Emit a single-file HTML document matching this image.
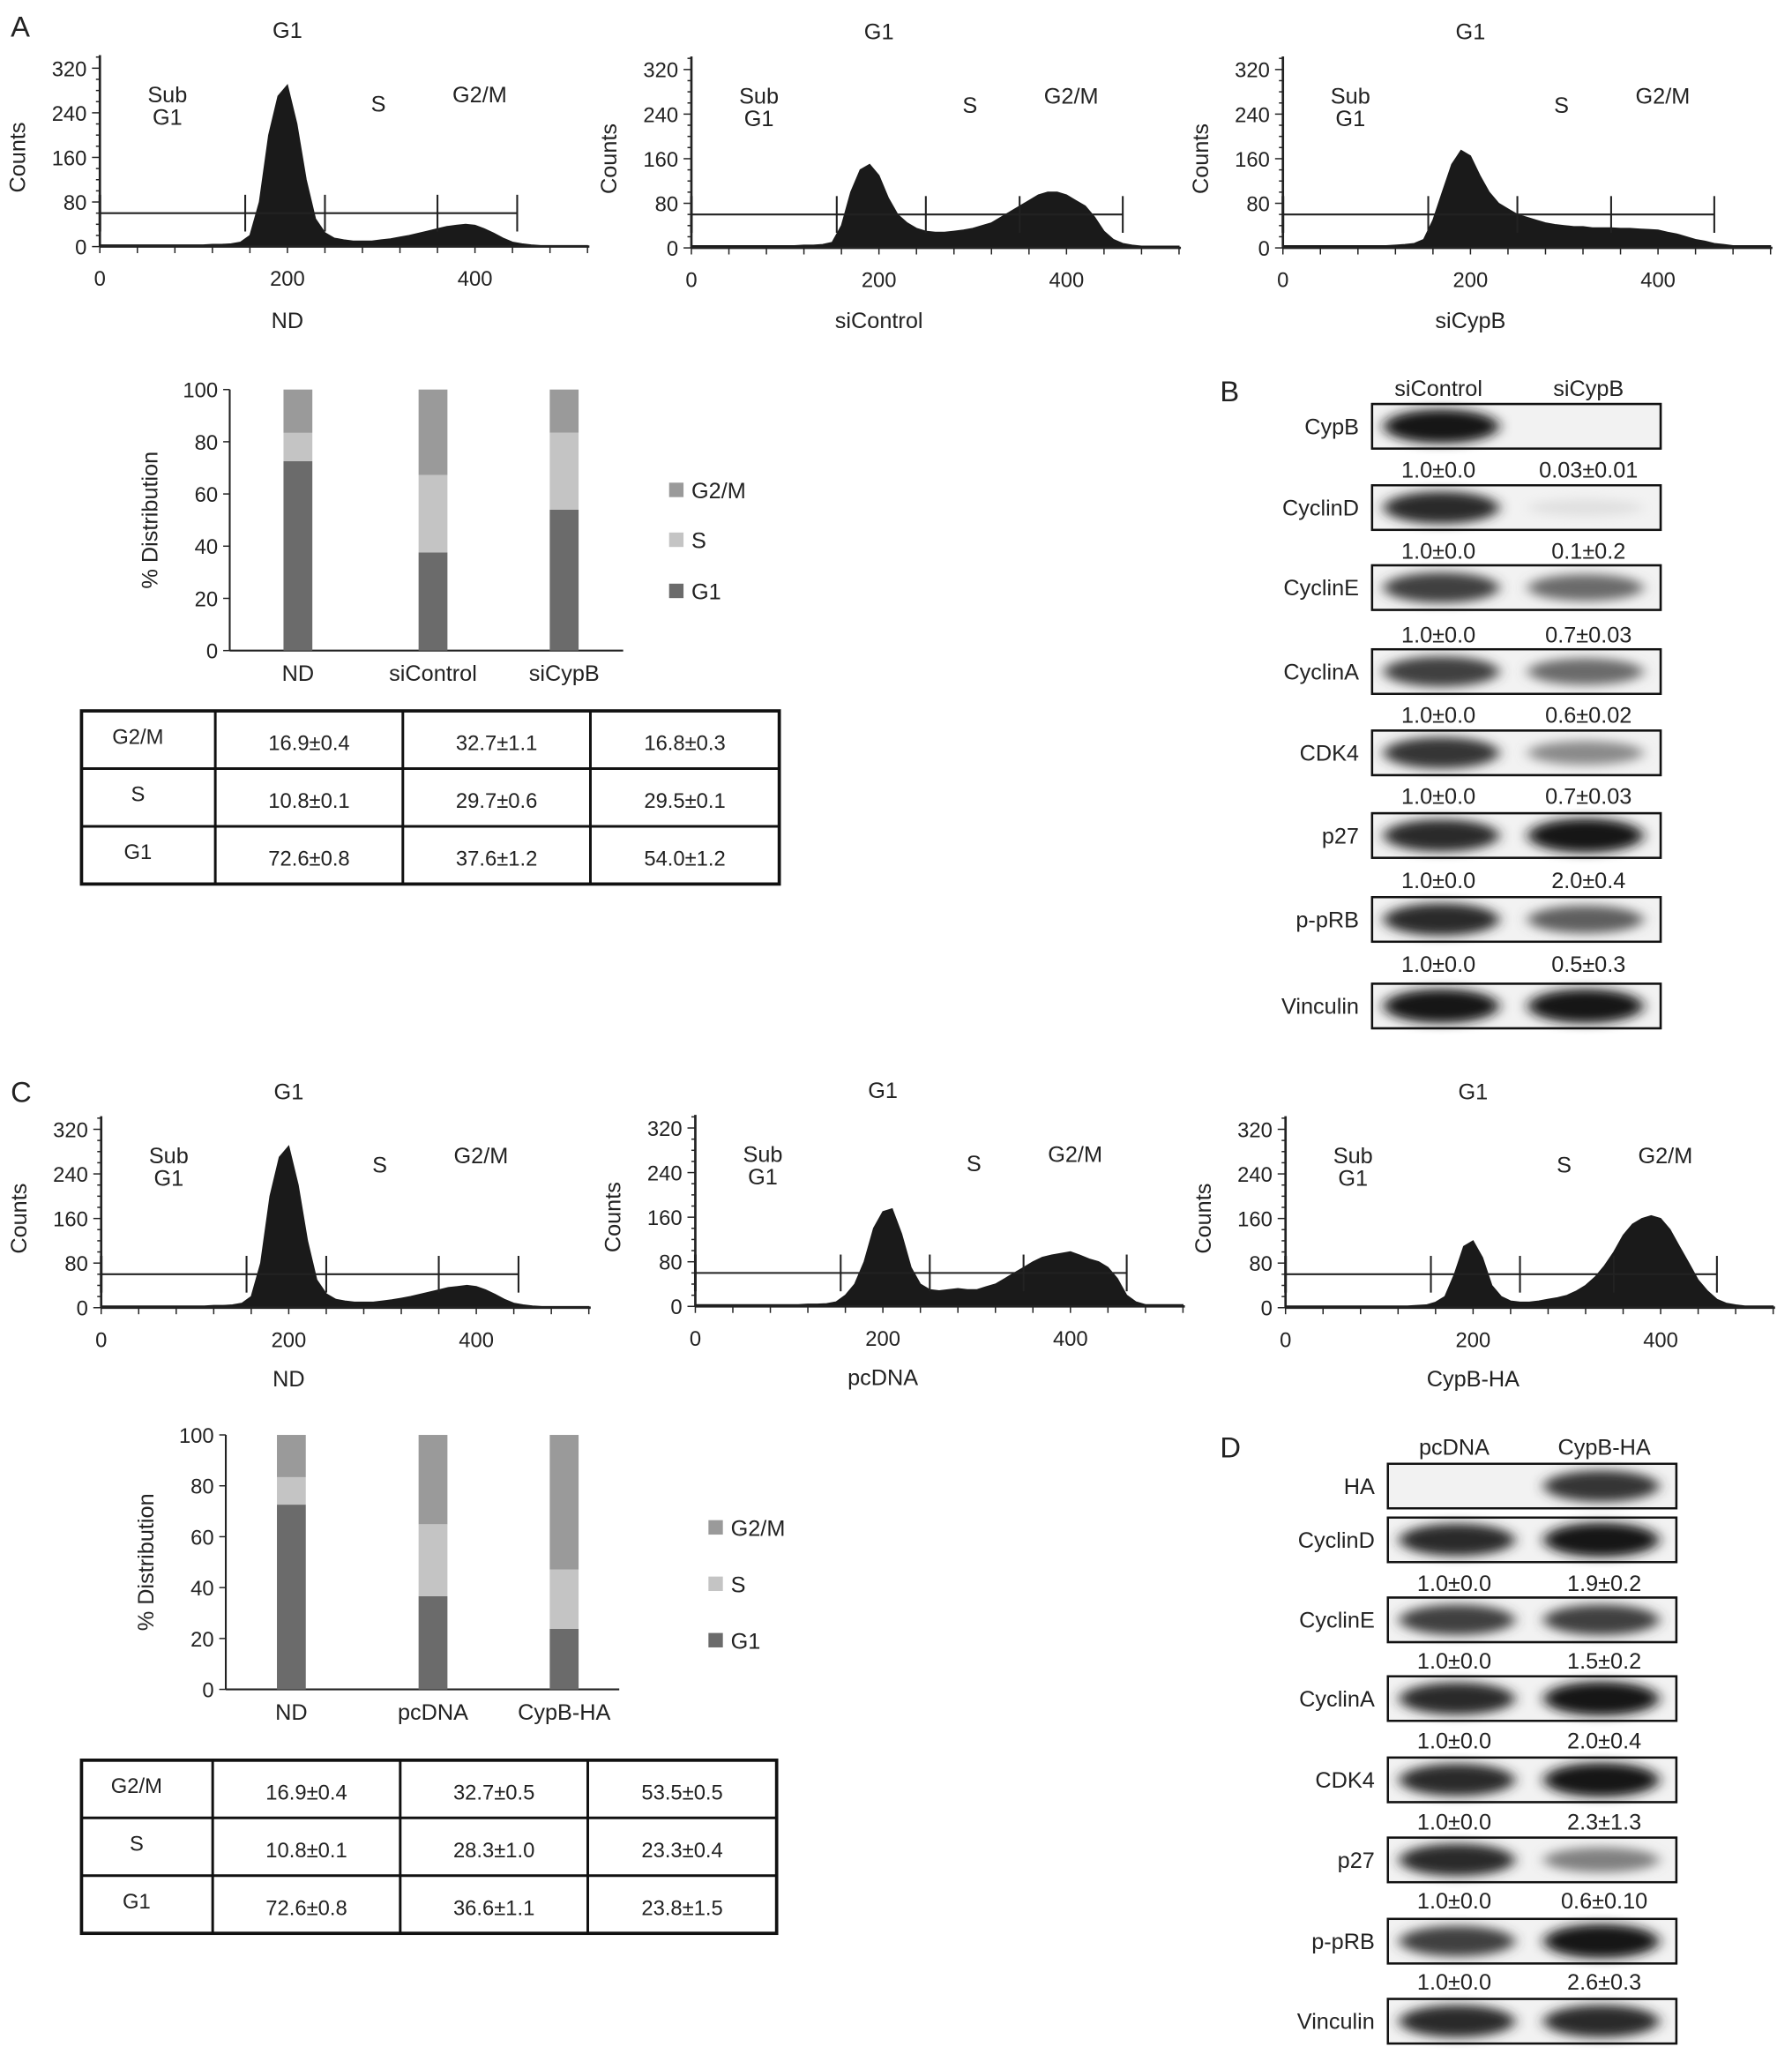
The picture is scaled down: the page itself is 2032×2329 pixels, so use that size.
<!DOCTYPE html>
<html><head><meta charset="utf-8"><style>
html,body{margin:0;padding:0;background:#fff;}
svg{display:block;font-family:"Liberation Sans",Arial,sans-serif;}
</style></head><body>
<svg id="fig" width="2032" height="2329" viewBox="0 0 1366 1566" xmlns="http://www.w3.org/2000/svg">
<defs>
<filter id="blur" x="-20%" y="-80%" width="140%" height="260%"><feGaussianBlur stdDeviation="5 4"/></filter>
</defs>
</svg>
<script>
// ---------- data ----------
const histBins = [0,10,20,30,40,50,60,70,80,90,100,110,120,130,140,150,160,170,180,190,200,210,220,230,240,250,260,270,280,290,300,310,320,330,340,350,360,370,380,390,400,410,420,430,440,450,460,470,480,490,500,510,520];
const histND = [3,3,3,3,3,3,3,3,3,3,3,3,4,4,5,8,20,80,200,270,290,220,120,50,25,15,12,10,10,10,12,14,17,20,24,28,32,36,38,40,38,32,24,15,8,5,3,2,2,2,2,2,2];
const histSiControl = [4,4,4,4,4,4,4,4,4,4,4,4,5,5,6,10,40,100,140,150,130,90,60,45,35,30,28,28,30,32,35,40,45,55,65,75,85,95,100,100,95,85,75,55,30,15,8,5,3,3,3,3,3];
const histSiCypB = [4,4,4,4,4,4,4,4,4,4,4,4,5,6,8,15,50,100,150,175,165,130,100,80,70,60,55,50,45,42,40,38,38,36,36,36,35,35,34,33,32,28,25,20,15,12,8,6,4,4,4,4,4];
const histPcDNA = [3,3,3,3,3,3,3,3,3,3,3,3,4,4,5,8,20,40,80,140,170,175,130,70,40,30,28,30,32,30,30,35,40,50,60,70,80,88,92,95,98,92,85,80,70,50,20,8,3,3,3,3,3];
const histCypBHA = [3,3,3,3,3,3,3,3,3,3,3,3,3,3,4,5,10,20,60,110,120,90,40,20,12,10,10,12,15,18,22,30,40,55,75,100,130,150,160,165,160,140,110,80,50,30,15,8,5,3,3,3,3];
const yTicks = [0,80,160,240,320];
const xTicks = [0,200,400];
const gatesA = [155,240,360,445];
const gatesB = [155,250,350,460];

const barCatsA = ["ND","siControl","siCypB"];
const barCatsC = ["ND","pcDNA","CypB-HA"];
const g1A = [72.6,37.6,54.0], sA = [10.8,29.7,29.5], g2mA = [16.9,32.7,16.8];
const g1C = [72.6,36.6,23.8], sC = [10.8,28.3,23.3], g2mC = [16.9,32.7,53.5];
const tblA = [["G2/M","16.9±0.4","32.7±1.1","16.8±0.3"],["S","10.8±0.1","29.7±0.6","29.5±0.1"],["G1","72.6±0.8","37.6±1.2","54.0±1.2"]];
const tblC = [["G2/M","16.9±0.4","32.7±0.5","53.5±0.5"],["S","10.8±0.1","28.3±1.0","23.3±0.4"],["G1","72.6±0.8","36.6±1.1","23.8±1.5"]];
const pctTicks = [0,20,40,60,80,100];

const blotB = ["CypB","CyclinD","CyclinE","CyclinA","CDK4","p27","p-pRB","Vinculin"];
const blotBInt = [[1,0],[0.9,0.05],[0.8,0.6],[0.8,0.6],[0.85,0.45],[0.9,1],[0.9,0.65],[1,1]];
const blotBVals = [["1.0±0.0","0.03±0.01"],["1.0±0.0","0.1±0.2"],["1.0±0.0","0.7±0.03"],["1.0±0.0","0.6±0.02"],["1.0±0.0","0.7±0.03"],["1.0±0.0","2.0±0.4"],["1.0±0.0","0.5±0.3"],null];
const blotD = ["HA","CyclinD","CyclinE","CyclinA","CDK4","p27","p-pRB","Vinculin"];
const blotDInt = [[0,0.85],[0.9,1],[0.8,0.8],[0.9,1],[0.9,1],[0.9,0.5],[0.8,1],[0.9,0.9]];
const blotDVals = [null,["1.0±0.0","1.9±0.2"],["1.0±0.0","1.5±0.2"],["1.0±0.0","2.0±0.4"],["1.0±0.0","2.3±1.3"],["1.0±0.0","0.6±0.10"],["1.0±0.0","2.6±0.3"],null];

// ---------- helpers ----------
const svg = document.getElementById('fig');
const NS = 'http://www.w3.org/2000/svg';
function el(tag, attrs, parent){const e=document.createElementNS(NS,tag);for(const k in attrs)e.setAttribute(k,attrs[k]);(parent||svg).appendChild(e);return e;}
function txt(x,y,s,size,anchor,parent){const t=el('text',{x:x,y:y,'font-size':size||16,'text-anchor':anchor||'middle',fill:'#222'},parent);t.textContent=s;return t;}

function panelLabel(x,y,s){const t=txt(x,y,s,22,'start');

}
panelLabel(8,28,"A");panelLabel(930,306,"B");panelLabel(8,840,"C");panelLabel(930,1111,"D");

function histogram(ox,oy,data,gates,title,name,labY){
  const g=el('g',{});
  
  
  const X=v=>ox+v*143/200, Y=v=>oy-v*34/80;
  let d='M'+X(0)+','+Y(0);
  histBins.forEach((b,i)=>{d+=' L'+X(b).toFixed(1)+','+Y(data[i]).toFixed(1);});
  d+=' L'+X(520)+','+Y(0)+' Z';
  const p=el('path',{d:d,fill:'#1a1a1a',stroke:'#1a1a1a','stroke-width':0.8},g);
  
  
  el('line',{x1:ox,y1:Y(0),x2:X(522),y2:Y(0),stroke:'#222','stroke-width':1.8},g);
  el('line',{x1:ox,y1:Y(0),x2:ox,y2:oy-146,stroke:'#222','stroke-width':1.8},g);
  for(let v=0;v<=340;v+=20){el('line',{x1:ox-(v%80===0?6:3),y1:Y(v),x2:ox,y2:Y(v),stroke:'#222','stroke-width':1},g);}
  for(let v=0;v<=520;v+=40){el('line',{x1:X(v),y1:Y(0),x2:X(v),y2:Y(0)+5,stroke:'#222','stroke-width':1},g);}
  yTicks.forEach(v=>txt(ox-10,Y(v)+6,String(v),16,'end',g));
  xTicks.forEach(v=>txt(X(v),oy+30,String(v),16,'middle',g));
  const gy=Y(60);
  el('line',{x1:ox,y1:gy,x2:X(gates[3]),y2:gy,stroke:'#222','stroke-width':1.4},g);
  el('line',{x1:ox,y1:gy-14,x2:ox,y2:gy+14,stroke:'#222','stroke-width':2},g);
  gates.forEach(v=>el('line',{x1:X(v),y1:gy-14,x2:X(v),y2:gy+14,stroke:'#222','stroke-width':1.4},g));
  const ct=txt(0,0,'Counts',17,'middle',g);
  ct.setAttribute('transform','translate('+(ox-57)+','+(oy-68)+') rotate(-90)');
  txt(X(200),oy-159,'G1',17,'middle',g);
  txt(X(72),oy-110,'Sub',17,'middle',g);txt(X(72),oy-93,'G1',17,'middle',g);
  txt(X(297),oy-103,'S',17,'middle',g);
  txt(X(405),oy-110,'G2/M',17,'middle',g);
  txt(X(200),oy+labY,title,17,'middle',g);
}
histogram(76,188,histND,gatesA,'ND','a-nd',62);
histogram(527,189,histSiControl,gatesB,'siControl','a-sicontrol',61);
histogram(978,189,histSiCypB,gatesB,'siCypB','a-sicypb',61);
histogram(77,997,histND,gatesA,'ND','c-nd',60);
histogram(530,996,histPcDNA,gatesB,'pcDNA','c-pcdna',60);
histogram(980,997,histCypBHA,gatesB,'CypB-HA','c-cypbha',60);

function stacked(ox,top,bot,xs,cats,g1,s,g2m,legX,legYs,name){
  const g=el('g',{});
  
  
  const Y=v=>bot-(bot-top)*v/100;
  el('line',{x1:ox,y1:top,x2:ox,y2:bot,stroke:'#222','stroke-width':1.4},g);
  el('line',{x1:ox,y1:bot,x2:ox+300,y2:bot,stroke:'#222','stroke-width':1.4},g);
  pctTicks.forEach(v=>{el('line',{x1:ox-5,y1:Y(v),x2:ox,y2:Y(v),stroke:'#222'},g);txt(ox-9,Y(v)+6,String(v),16,'end',g);});
  const yl=txt(0,0,'% Distribution',17,'middle',g);
  yl.setAttribute('transform','translate('+(ox-55)+','+((top+bot)/2)+') rotate(-90)');
  cats.forEach((c,i)=>{
    const segs=[[0,g1[i],'#6b6b6b','g1'],[g1[i],g1[i]+s[i],'#c4c4c4','s'],[g1[i]+s[i],100,'#9a9a9a','g2m']];
    segs.forEach(sg=>{const r=el('rect',{x:xs[i]-11,y:Y(sg[1]),width:22,height:Y(sg[0])-Y(sg[1]),fill:sg[2]},g);
      
      });
    txt(xs[i],bot+23,c,17,'middle',g);
  });
  [['G2/M','#9a9a9a'],['S','#c4c4c4'],['G1','#6b6b6b']].forEach((L,i)=>{
    const r=el('rect',{x:legX,y:legYs[i]-6,width:11,height:11,fill:L[1]},g);
    
    
    txt(legX+17,legYs[i]+6,L[0],17,'start',g);
  });
}
stacked(175,297,496,[227,330,430],barCatsA,g1A,sA,g2mA,510,[374,412,451],'a');
stacked(172,1094,1288,[222,330,430],barCatsC,g1C,sC,g2mC,540,[1165,1208,1251],'c');

function table(x0,y0,cols,rows,name){
  const g=el('g',{});
  
  
  const h=44;
  el('rect',{x:x0,y:y0,width:cols[4]-x0,height:h*3,fill:'none',stroke:'#111','stroke-width':2.5},g);
  for(let i=1;i<3;i++)el('line',{x1:x0,y1:y0+h*i,x2:cols[4],y2:y0+h*i,stroke:'#111','stroke-width':2},g);
  for(let j=1;j<4;j++)el('line',{x1:cols[j],y1:y0,x2:cols[j],y2:y0+h*3,stroke:'#111','stroke-width':2},g);
  rows.forEach((r,i)=>r.forEach((c,j)=>{txt((cols[j]+cols[j+1])/2-(j===0?8:0),y0+h*i+(j===0?25:30),c,16,'middle',g);}));
}
table(62,542,[62,164,307,450,594],tblA,'a');
table(62,1342,[62,162,305,448,592],tblC,'c');

function blot(x0,x1,heads,headY,labels,ints,vals,boxYs,valYs,name){
  const g=el('g',{});
  
  
  const w=x1-x0;
  txt(x0+w*0.23,headY,heads[0],17,'middle',g);txt(x0+w*0.75,headY,heads[1],17,'middle',g);
  labels.forEach((L,i)=>{
    const y=boxYs[i],h=34;
    const bg=el('rect',{x:x0,y:y,width:w,height:h,fill:'#f2f2f2',stroke:'#111','stroke-width':1.6},g);
    
    
    ints[i].forEach((v,k)=>{
      if(v<=0.02)return;
      const cx=x0+w*(k===0?0.24:0.74);
      const gr=Math.round(235-215*v);
      el('ellipse',{cx:cx,cy:y+h/2,rx:w*0.2,ry:6+7*v,fill:'rgb('+gr+','+gr+','+gr+')',filter:'url(#blur)'},g);
    });
    el('rect',{x:x0,y:y,width:w,height:h,fill:'none',stroke:'#111','stroke-width':1.6},g);
    txt(x0-10,y+h/2+6,L,17,'end',g);
    if(vals[i]){txt(x0+w*0.23,valYs[i],vals[i][0],17,'middle',g);txt(x0+w*0.75,valYs[i],vals[i][1],17,'middle',g);}
  });
}
blot(1046,1266,['siControl','siCypB'],302,blotB,blotBInt,blotBVals,[308,370,431,495,557,620,684,750],[364,426,490,551,613,677,741,0],'b');
blot(1058,1278,['pcDNA','CypB-HA'],1109,blotD,blotDInt,blotDVals,[1116,1157,1218,1278,1340,1401,1463,1524],[0,1213,1272,1333,1395,1455,1517,0],'d');
</script>
</body></html>
